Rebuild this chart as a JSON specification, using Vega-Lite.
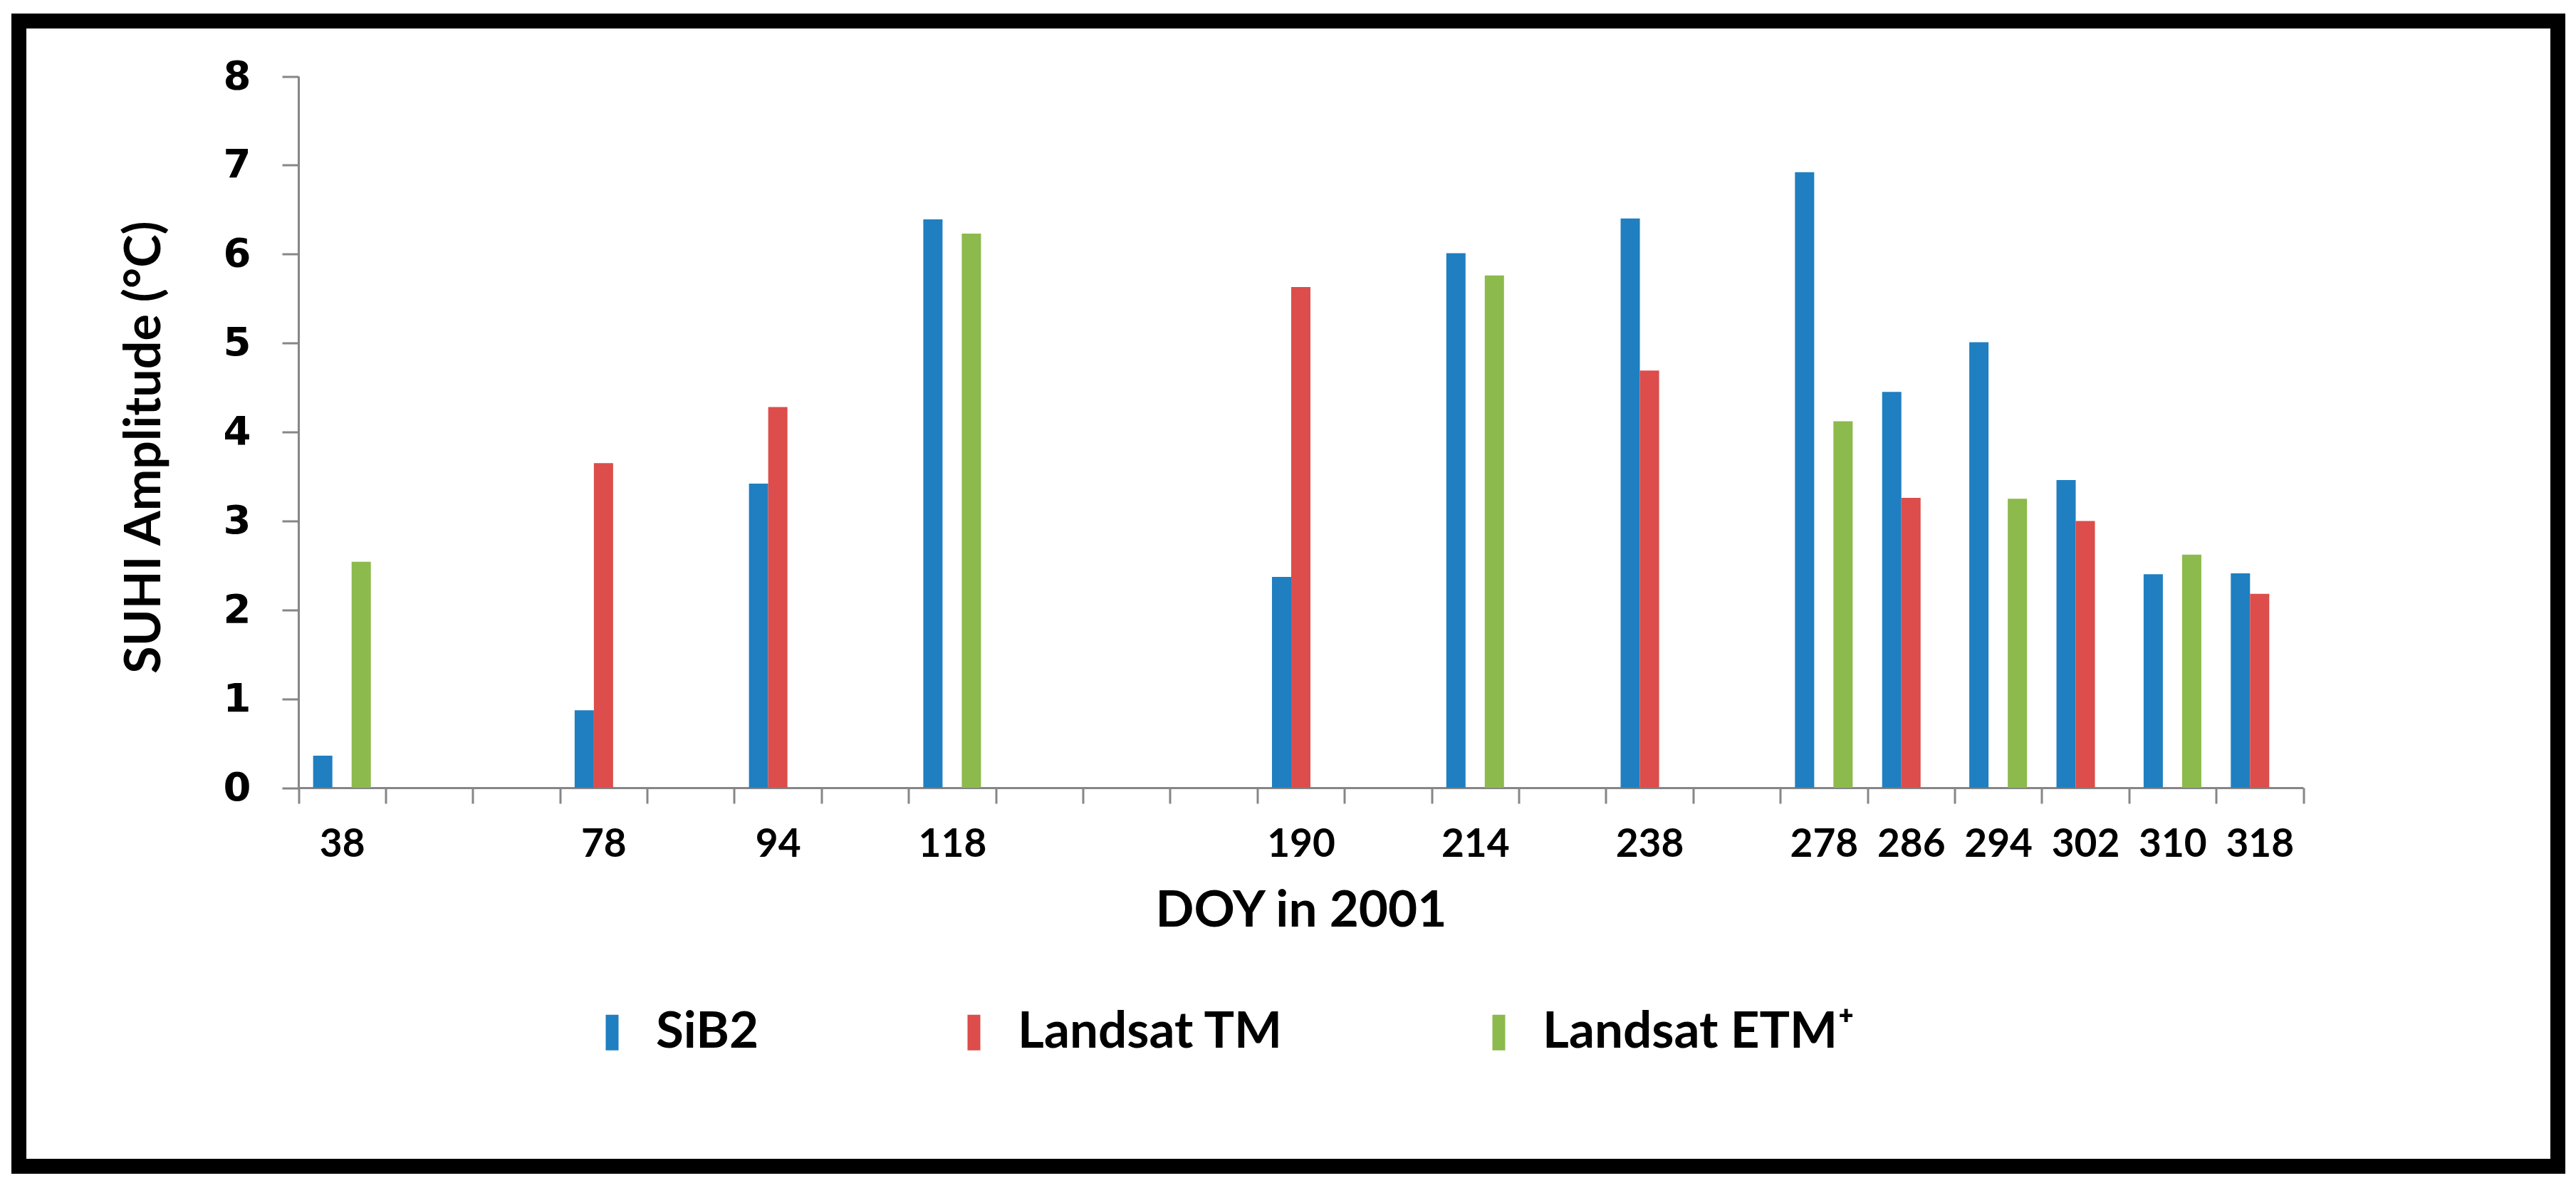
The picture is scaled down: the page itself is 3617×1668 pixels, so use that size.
{
  "$schema": "https://vega.github.io/schema/vega-lite/v6.json",
  "width": 3565,
  "height": 1608,
  "autosize": {"type": "none"},
  "padding": {"left": 26.5, "top": 29.5, "right": 25.5, "bottom": 30.5},
  "background": "white",
  "config": {"view": {"stroke": "black", "strokeWidth": 21}},
  "data": {
    "values": [
      {"doy": "38", "series": "SiB2", "value": 0.36},
      {"doy": "38", "series": "Landsat ETM⁺", "value": 2.54},
      {"doy": "78", "series": "SiB2", "value": 0.87},
      {"doy": "78", "series": "Landsat TM", "value": 3.65},
      {"doy": "94", "series": "SiB2", "value": 3.42},
      {"doy": "94", "series": "Landsat TM", "value": 4.28},
      {"doy": "118", "series": "SiB2", "value": 6.39},
      {"doy": "118", "series": "Landsat ETM⁺", "value": 6.23},
      {"doy": "190", "series": "SiB2", "value": 2.37},
      {"doy": "190", "series": "Landsat TM", "value": 5.63},
      {"doy": "214", "series": "SiB2", "value": 6.01},
      {"doy": "214", "series": "Landsat ETM⁺", "value": 5.76},
      {"doy": "238", "series": "SiB2", "value": 6.40},
      {"doy": "238", "series": "Landsat TM", "value": 4.69},
      {"doy": "278", "series": "SiB2", "value": 6.92},
      {"doy": "278", "series": "Landsat ETM⁺", "value": 4.12},
      {"doy": "286", "series": "SiB2", "value": 4.45},
      {"doy": "286", "series": "Landsat TM", "value": 3.26},
      {"doy": "294", "series": "SiB2", "value": 5.01},
      {"doy": "294", "series": "Landsat ETM⁺", "value": 3.25},
      {"doy": "302", "series": "SiB2", "value": 3.46},
      {"doy": "302", "series": "Landsat TM", "value": 3.00},
      {"doy": "310", "series": "SiB2", "value": 2.40},
      {"doy": "310", "series": "Landsat ETM⁺", "value": 2.62},
      {"doy": "318", "series": "SiB2", "value": 2.41},
      {"doy": "318", "series": "Landsat TM", "value": 2.18}
    ]
  },
  "mark": {"type": "bar"},
  "encoding": {
    "x": {
      "field": "doy",
      "type": "nominal",
      "scale": {
        "domain": ["38", "e1", "e2", "78", "e3", "94", "e4", "118", "e5", "e6", "e7", "190", "e8", "214", "e9", "238", "e10", "278", "286", "294", "302", "310", "318"],
        "range": [392.5, 3207.5],
        "paddingInner": 0,
        "paddingOuter": 0
      },
      "axis": {
        "offset": -531.5,
        "labelExpr": "test(/^e/, datum.label) ? '' : datum.label",
        "labelAngle": 0,
        "labelFont": "Lato",
        "labelFontSize": 55,
        "labelFontWeight": "bold",
        "labelColor": "black",
        "labelBaseline": "alphabetic",
        "labelPadding": 74,
        "tickBand": "extent",
        "tickSize": 22,
        "tickWidth": 3,
        "tickColor": "#868686",
        "domainColor": "#868686",
        "domainWidth": 3,
        "grid": false,
        "title": "DOY in 2001",
        "titleFont": "Lato",
        "titleFontSize": 71,
        "titleFontWeight": "bold",
        "titleColor": "black",
        "titleBaseline": "alphabetic",
        "titleY": 194
      }
    },
    "xOffset": {
      "field": "series",
      "type": "nominal",
      "scale": {"domain": ["SiB2", "Landsat TM", "Landsat ETM⁺"], "paddingInner": 0, "paddingOuter": 0.766}
    },
    "y": {
      "field": "value",
      "type": "quantitative",
      "scale": {"domain": [0, 8], "range": [1076.5, 77.5], "nice": false},
      "axis": {
        "offset": -392.5,
        "values": [0, 1, 2, 3, 4, 5, 6, 7, 8],
        "labelFont": "DejaVu Sans",
        "labelFontSize": 56,
        "labelFontWeight": "bold",
        "labelColor": "black",
        "labelPadding": 44,
        "tickSize": 23,
        "tickWidth": 3,
        "tickColor": "#868686",
        "domainColor": "#868686",
        "domainWidth": 3,
        "grid": false,
        "title": "SUHI Amplitude (°C)",
        "titleFont": "Lato",
        "titleFontSize": 70,
        "titleFontWeight": "bold",
        "titleColor": "black",
        "titleAngle": 270,
        "titleAlign": "center",
        "titleBaseline": "middle",
        "titleX": -216,
        "titleY": 598
      }
    },
    "color": {
      "field": "series",
      "type": "nominal",
      "scale": {"domain": ["SiB2", "Landsat TM", "Landsat ETM⁺"], "range": ["#1f7fc1", "#dc4d4b", "#8cba4c"]},
      "legend": {
        "title": null,
        "orient": "none",
        "direction": "horizontal",
        "columns": 3,
        "gridAlign": "each",
        "legendX": 797.5,
        "legendY": 1384.5,
        "padding": 0,
        "columnPadding": 266,
        "symbolType": "M-0.36,-1L0.36,-1L0.36,1L-0.36,1Z",
        "symbolSize": 2500,
        "symbolStrokeWidth": 0,
        "symbolOpacity": 1,
        "labelOffset": 26,
        "labelFont": "Lato",
        "labelFontSize": 71,
        "labelFontWeight": "bold",
        "labelColor": "black",
        "labelLimit": 0
      }
    }
  }
}
